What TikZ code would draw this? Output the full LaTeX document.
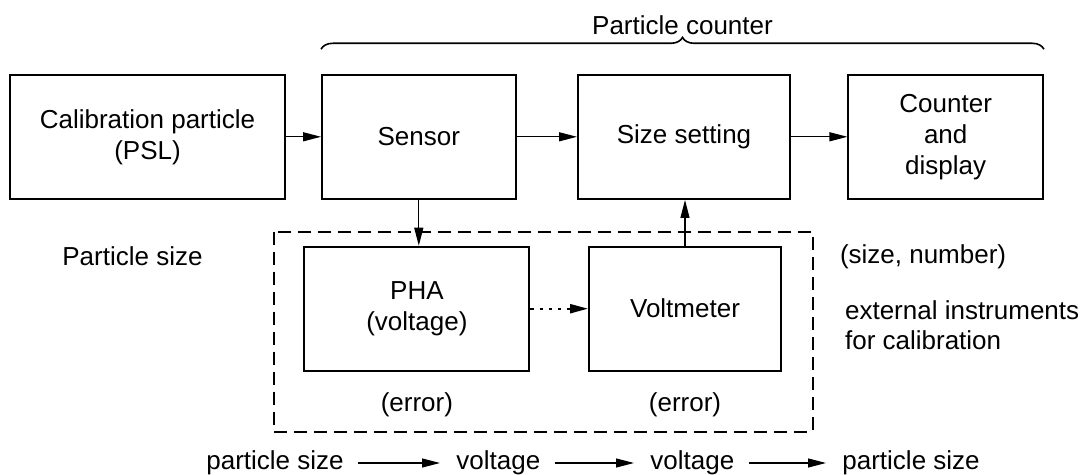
\documentclass[tikz,border=0pt]{standalone}
\usepackage{fontspec}
\setmainfont{Liberation Sans}
\usepackage{tikz}
\usetikzlibrary{positioning,arrows.meta,decorations.pathreplacing}
\tikzset{
  box/.style={draw, line width=1pt, align=center, inner sep=2pt,
              minimum height=62.2pt, font=\fontsize{13}{15.5}\selectfont},
  lbl/.style={align=left, inner sep=0pt, font=\fontsize{13}{15.2}\selectfont},
  ar/.style={-{Triangle[length=9pt,width=4.5pt]}, line width=0.6pt},
  dotar/.style={ar, line width=1.1pt, dash pattern=on 1.6pt off 3pt},
  flowar/.style={ar, shorten <=7pt, shorten >=8pt},
  frame/.style={line width=0.9pt, dash pattern=on 6.5pt off 3.5pt},
  brc/.style={decorate, decoration={brace, amplitude=5.9pt}, line width=0.8pt},
}
\begin{document}
\begin{tikzpicture}[x=0.5pt, y=-0.5pt]
\useasboundingbox (0,0) rectangle (1082,475);

% counter chain
\node[box, minimum width=137.5pt] (calib) at (147.5,136.8) {Calibration particle\\(PSL)};
\node[box, minimum width=96.75pt] (sensor) at (418.8,136.8) {Sensor};
\node[box, minimum width=106pt] (size) at (684,136.8) {Size setting};
\node[box, minimum width=97.25pt] (counter) at (945.7,136.8) {Counter\\and\\display};
\draw[ar] (calib) -- (sensor);
\draw[ar] (sensor) -- (size);
\draw[ar] (size) -- (counter);

\draw[brc] ([yshift=12.2pt]sensor.north west) -- ([yshift=12.2pt]counter.north east)
  node[lbl, midway, above=7pt] (pclbl) {Particle counter};

% external instruments
\draw[frame] (274,231.7) rectangle (812.7,431.7);
\node[box, minimum width=112.5pt, minimum height=62pt] (pha) at (416.9,308.7) {PHA\\(voltage)};
\node[box, minimum width=96pt, minimum height=62pt] (volt) at (685,308.7) {Voltmeter};
\draw[ar] (sensor.south) -- (sensor.south |- pha.north);
\draw[dotar] (pha) -- (volt);
\draw[ar] (volt.north) -- (volt.north |- size.south);
\node[lbl] (err1) at (416.9,405) {(error)};
\node[lbl] (err2) at (685,405) {(error)};

\node[lbl, anchor=west] (psize) at (62,256.7) {Particle size};
\node[lbl, anchor=west] (sizenum) at (839.6,256.7) {(size, number)};
\node[lbl, anchor=west] (extlbl) at (844.7,325) {external instruments\\for calibration};

% conversion chain
\node[lbl, anchor=west] (b1) at (206,463) {particle size};
\node[lbl, anchor=west] (b2) at (456,463) {voltage};
\node[lbl, anchor=west] (b3) at (650,463) {voltage};
\node[lbl, anchor=west] (b4) at (842,463) {particle size};
\draw[flowar] (b1) -- (b2);
\draw[flowar] (b2) -- (b3);
\draw[flowar] (b3) -- (b4);
\end{tikzpicture}
\end{document}
